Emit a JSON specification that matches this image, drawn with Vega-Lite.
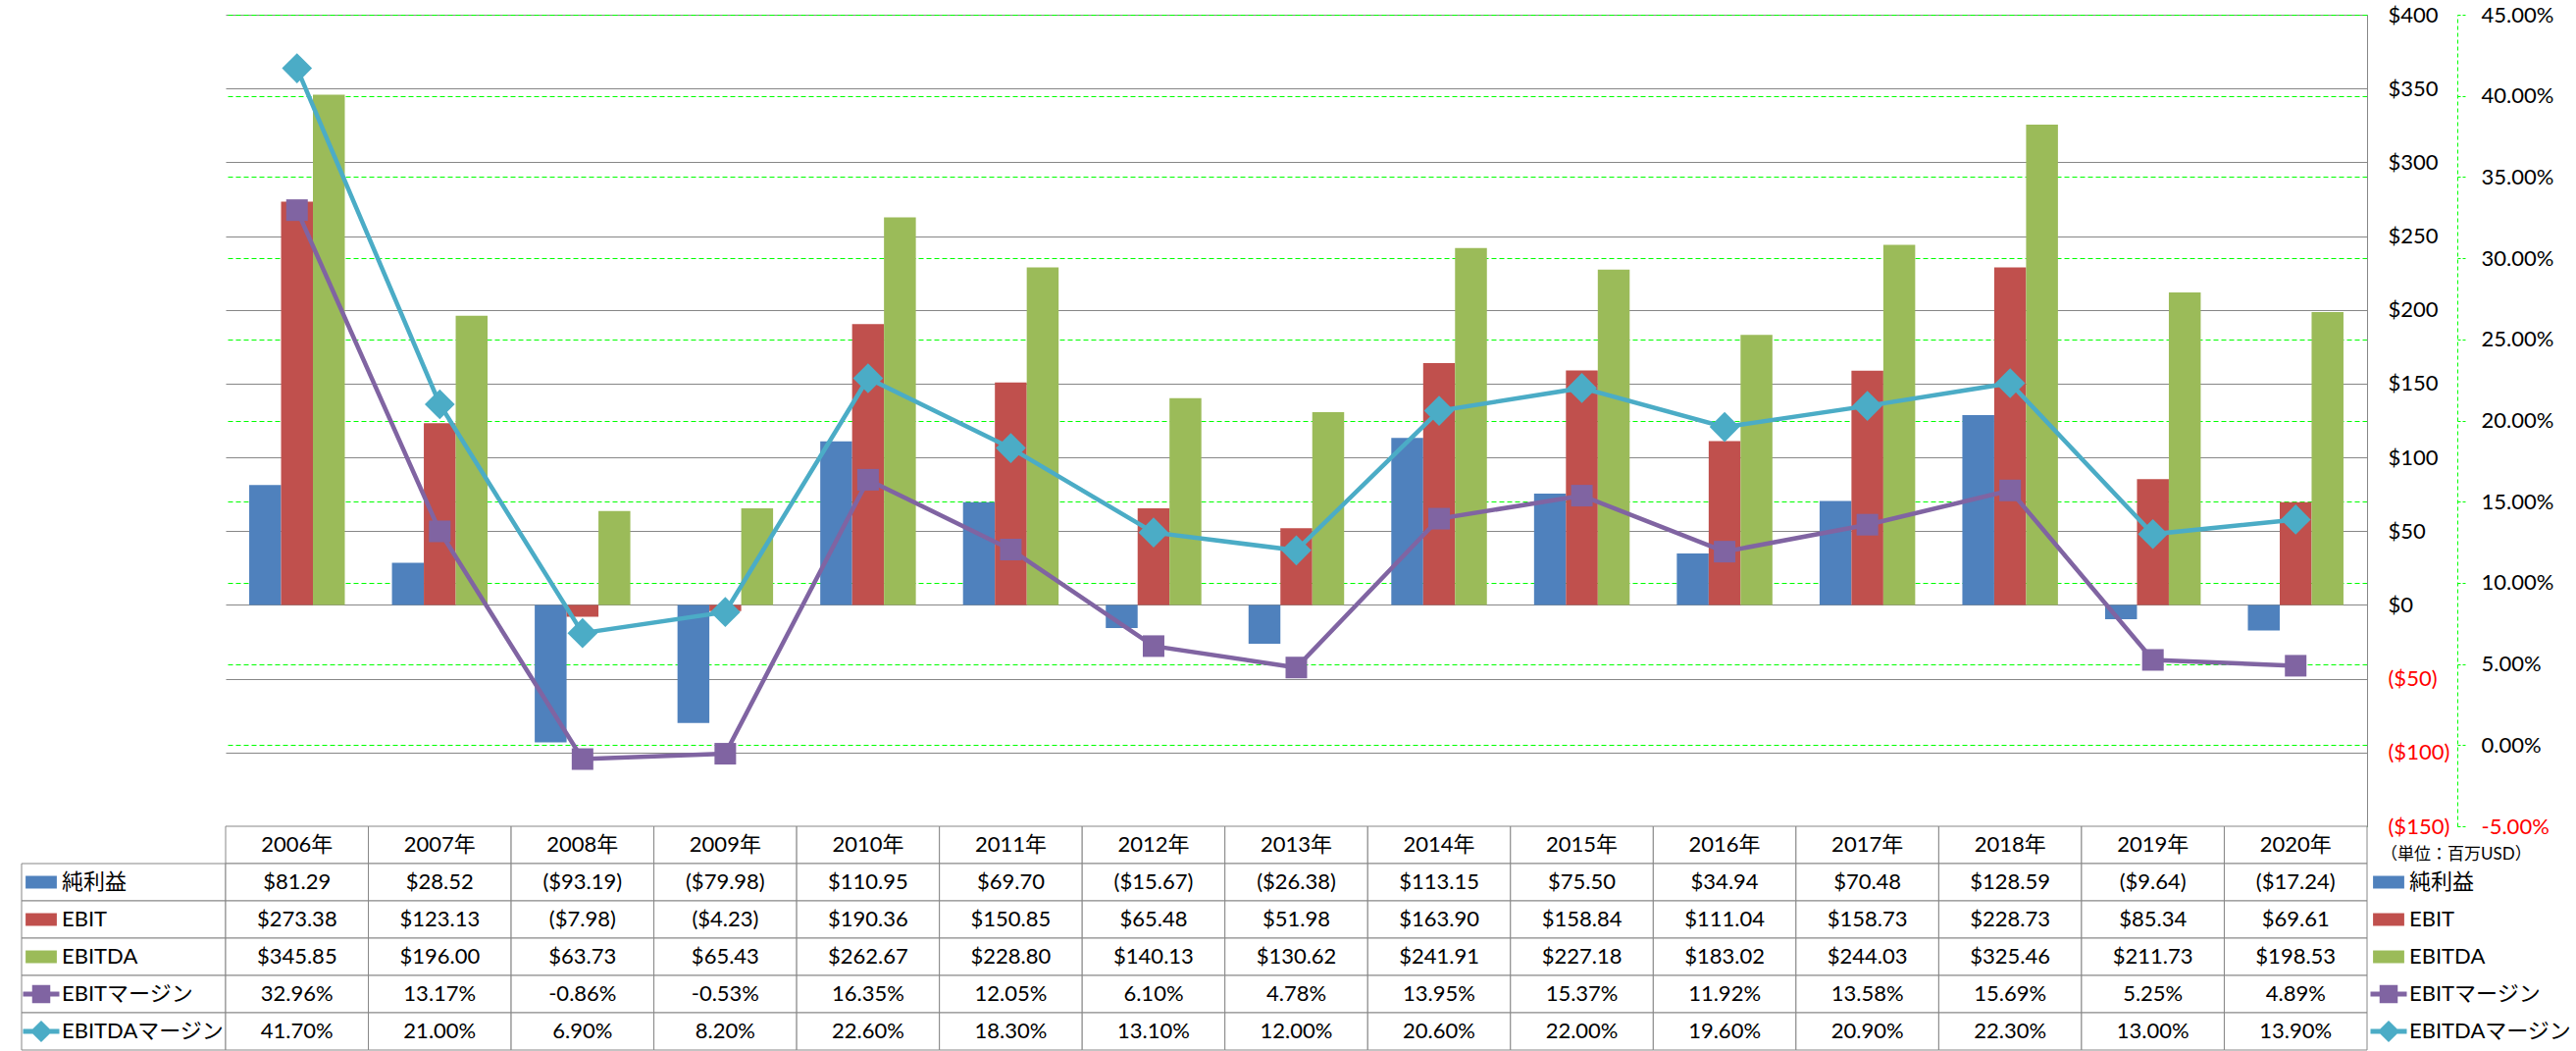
{
  "$schema": "https://vega.github.io/schema/vega-lite/v6.json",
  "padding": {"left": 21, "top": 4, "right": 0, "bottom": 0},
  "background": "white",
  "config": {"view": {"stroke": null}, "font": "Lato, Noto Sans CJK JP"},
  "datasets": {
    "fin": [
      {"year": "2006年", "純利益": 81.29, "EBIT": 273.38, "EBITDA": 345.85, "EBITマージン": 0.3296, "EBITDAマージン": 0.417},
      {"year": "2007年", "純利益": 28.52, "EBIT": 123.13, "EBITDA": 196.00, "EBITマージン": 0.1317, "EBITDAマージン": 0.21},
      {"year": "2008年", "純利益": -93.19, "EBIT": -7.98, "EBITDA": 63.73, "EBITマージン": -0.0086, "EBITDAマージン": 0.069},
      {"year": "2009年", "純利益": -79.98, "EBIT": -4.23, "EBITDA": 65.43, "EBITマージン": -0.0053, "EBITDAマージン": 0.082},
      {"year": "2010年", "純利益": 110.95, "EBIT": 190.36, "EBITDA": 262.67, "EBITマージン": 0.1635, "EBITDAマージン": 0.226},
      {"year": "2011年", "純利益": 69.70, "EBIT": 150.85, "EBITDA": 228.80, "EBITマージン": 0.1205, "EBITDAマージン": 0.183},
      {"year": "2012年", "純利益": -15.67, "EBIT": 65.48, "EBITDA": 140.13, "EBITマージン": 0.061, "EBITDAマージン": 0.131},
      {"year": "2013年", "純利益": -26.38, "EBIT": 51.98, "EBITDA": 130.62, "EBITマージン": 0.0478, "EBITDAマージン": 0.12},
      {"year": "2014年", "純利益": 113.15, "EBIT": 163.90, "EBITDA": 241.91, "EBITマージン": 0.1395, "EBITDAマージン": 0.206},
      {"year": "2015年", "純利益": 75.50, "EBIT": 158.84, "EBITDA": 227.18, "EBITマージン": 0.1537, "EBITDAマージン": 0.22},
      {"year": "2016年", "純利益": 34.94, "EBIT": 111.04, "EBITDA": 183.02, "EBITマージン": 0.1192, "EBITDAマージン": 0.196},
      {"year": "2017年", "純利益": 70.48, "EBIT": 158.73, "EBITDA": 244.03, "EBITマージン": 0.1358, "EBITDAマージン": 0.209},
      {"year": "2018年", "純利益": 128.59, "EBIT": 228.73, "EBITDA": 325.46, "EBITマージン": 0.1569, "EBITDAマージン": 0.223},
      {"year": "2019年", "純利益": -9.64, "EBIT": 85.34, "EBITDA": 211.73, "EBITマージン": 0.0525, "EBITDAマージン": 0.13},
      {"year": "2020年", "純利益": -17.24, "EBIT": 69.61, "EBITDA": 198.53, "EBITマージン": 0.0489, "EBITDAマージン": 0.139}
    ],
    "series": [
      {"series": "純利益"}, {"series": "EBIT"}, {"series": "EBITDA"}, {"series": "EBITマージン"}, {"series": "EBITDAマージン"}
    ]
  },
  "columns": 2,
  "spacing": 0,
  "bounds": "flush",
  "resolve": {"scale": {"x": "independent", "y": "independent", "color": "independent", "shape": "independent", "xOffset": "independent"}},
  "concat": [
    {
      "width": 208, "height": 827,
      "data": {"values": [{}]},
      "mark": {"type": "text"},
      "encoding": {"text": {"value": ""}}
    },
    {
      "width": 2183, "height": 827,
      "data": {"name": "fin"},
      "layer": [
        {
          "transform": [{"fold": ["純利益", "EBIT", "EBITDA"], "as": ["series", "value"]}],
          "mark": {"type": "bar"},
          "encoding": {
            "x": {"field": "year", "type": "nominal", "sort": null, "scale": {"paddingInner": 0, "paddingOuter": 0}, "axis": null},
            "xOffset": {"field": "series", "type": "nominal", "sort": ["純利益", "EBIT", "EBITDA"], "scale": {"paddingInner": 0, "paddingOuter": 0.74}},
            "y": {
              "field": "value", "type": "quantitative",
              "scale": {"domain": [-150, 400], "nice": false, "zero": false},
              "axis": {
                "orient": "right", "title": null,
                "values": [-150, -100, -50, 0, 50, 100, 150, 200, 250, 300, 350, 400],
                "labelExpr": "datum.value < 0 ? '($' + (-datum.value) + ')' : '$' + datum.value",
                "labelColor": {"condition": {"test": "datum.value < 0", "value": "#FF0000"}, "value": "#000000"},
                "labelFontSize": 22, "labelAlign": "left", "labelBaseline": "middle", "labelPadding": 21,
                "labelOverlap": false, "labelFlush": false,
                "ticks": false, "domain": true, "domainColor": "#878787", "domainWidth": 1,
                "grid": true, "gridColor": "#878787", "gridWidth": 1
              }
            },
            "color": {
              "field": "series", "type": "nominal",
              "scale": {"domain": ["純利益", "EBIT", "EBITDA", "EBITマージン", "EBITDAマージン"], "range": ["#4F81BD", "#C0504D", "#9BBB59", "#8064A2", "#4BACC6"]},
              "legend": null
            }
          }
        },
        {
          "transform": [{"fold": ["EBITマージン", "EBITDAマージン"], "as": ["series", "value"]}],
          "encoding": {
            "x": {"field": "year", "type": "nominal", "sort": null, "scale": {"paddingInner": 0, "paddingOuter": 0}, "axis": null},
            "y": {
              "field": "value", "type": "quantitative",
              "scale": {"domain": [-0.05, 0.45], "nice": false, "zero": false},
              "axis": {
                "orient": "right", "offset": 92, "title": null,
                "values": [-0.05, 0, 0.05, 0.1, 0.15, 0.2, 0.25, 0.3, 0.35, 0.4, 0.45],
                "labelExpr": "datum.value < 0 ? '-' + format(-datum.value, '.2%') : format(datum.value, '.2%')",
                "labelColor": {"condition": {"test": "datum.value < 0", "value": "#FF0000"}, "value": "#000000"},
                "labelFontSize": 22, "labelAlign": "left", "labelBaseline": "middle", "labelPadding": 16,
                "labelOverlap": false, "labelFlush": false,
                "tickSize": 8, "tickColor": "#00FF00", "tickDash": [3, 2], "tickWidth": 1,
                "domainColor": "#00FF00", "domainDash": [4, 3], "domainWidth": 1,
                "grid": true, "gridColor": "#00FF00", "gridDash": [5, 3], "gridWidth": 1
              }
            }
          },
          "layer": [
            {
              "mark": {"type": "line", "strokeWidth": 4.5},
              "encoding": {
                "color": {
                  "field": "series", "type": "nominal",
                  "scale": {"domain": ["純利益", "EBIT", "EBITDA", "EBITマージン", "EBITDAマージン"], "range": ["#4F81BD", "#C0504D", "#9BBB59", "#8064A2", "#4BACC6"]},
                  "legend": null
                }
              }
            },
            {
              "transform": [{"filter": "datum.series === 'EBITマージン'"}],
              "mark": {"type": "point", "shape": "square", "size": 484, "filled": true, "opacity": 1, "color": "#8064A2"}
            },
            {
              "transform": [{"filter": "datum.series === 'EBITDAマージン'"}],
              "mark": {"type": "point", "shape": "diamond", "size": 940, "filled": true, "opacity": 1, "color": "#4BACC6"}
            }
          ]
        }
      ],
      "resolve": {"scale": {"y": "independent"}, "axis": {"y": "independent"}}
    },
    {
      "width": 208, "height": 228,
      "data": {"name": "series"},
      "encoding": {
        "y": {"field": "series", "type": "nominal", "scale": {"domain": ["header", "純利益", "EBIT", "EBITDA", "EBITマージン", "EBITDAマージン"], "paddingInner": 0, "paddingOuter": 0}, "axis": null}
      },
      "layer": [
        {
          "mark": {"type": "rect", "fill": "white", "stroke": "#878787", "strokeWidth": 1},
          "encoding": {"x": {"datum": "c", "type": "nominal", "scale": {"type": "band", "paddingInner": 0, "paddingOuter": 0}, "axis": null}}
        },
        {
          "mark": {"type": "point", "filled": true, "opacity": 1, "size": 1369, "strokeWidth": 0, "xOffset": 20},
          "encoding": {
            "x": {"datum": "c", "type": "nominal", "bandPosition": 0, "scale": {"type": "band", "paddingInner": 0, "paddingOuter": 0}, "axis": null},
            "shape": {
              "field": "series", "type": "nominal",
              "scale": {"domain": ["純利益", "EBIT", "EBITDA", "EBITマージン", "EBITDAマージン"], "range": ["M-0.86,-0.35H0.86V0.35H-0.86Z", "M-0.86,-0.35H0.86V0.35H-0.86Z", "M-0.86,-0.35H0.86V0.35H-0.86Z", "M-1,-0.135H-0.5V-0.5H0.5V-0.135H1V0.135H0.5V0.5H-0.5V0.135H-1Z", "M-1,-0.135H-0.465L0,-0.6L0.465,-0.135H1V0.135H0.465L0,0.6L-0.465,0.135H-1Z"]},
              "legend": null
            },
            "color": {
              "field": "series", "type": "nominal",
              "scale": {"domain": ["純利益", "EBIT", "EBITDA", "EBITマージン", "EBITDAマージン"], "range": ["#4F81BD", "#C0504D", "#9BBB59", "#8064A2", "#4BACC6"]},
              "legend": null
            }
          }
        },
        {
          "mark": {"type": "text", "align": "left", "baseline": "middle", "xOffset": 41, "fontSize": 22, "color": "#000000"},
          "encoding": {
            "x": {"datum": "c", "type": "nominal", "bandPosition": 0, "scale": {"type": "band", "paddingInner": 0, "paddingOuter": 0}, "axis": null},
            "text": {"field": "series"}
          }
        }
      ]
    },
    {
      "hconcat": [
        {
          "width": 2183, "height": 228,
          "data": {"name": "fin"},
          "layer": [
            {
              "mark": {"type": "rect", "fill": "white", "stroke": "#878787", "strokeWidth": 1},
              "encoding": {
                "x": {"field": "year", "type": "nominal", "sort": null, "scale": {"type": "band", "paddingInner": 0, "paddingOuter": 0}, "axis": null},
                "y": {"datum": "header", "type": "nominal", "scale": {"type": "band", "domain": ["header", "純利益", "EBIT", "EBITDA", "EBITマージン", "EBITDAマージン"], "paddingInner": 0, "paddingOuter": 0}, "axis": null}
              }
            },
            {
              "mark": {"type": "text", "fontSize": 22, "baseline": "middle", "color": "#000000"},
              "encoding": {
                "x": {"field": "year", "type": "nominal", "sort": null, "axis": null},
                "y": {"datum": "header", "type": "nominal", "axis": null},
                "text": {"field": "year"}
              }
            },
            {
              "transform": [
                {"fold": ["純利益", "EBIT", "EBITDA", "EBITマージン", "EBITDAマージン"], "as": ["series", "value"]},
                {"calculate": "indexof(['EBITマージン', 'EBITDAマージン'], datum.series) >= 0 ? (datum.value < 0 ? '-' + format(-datum.value, '.2%') : format(datum.value, '.2%')) : (datum.value < 0 ? '($' + format(-datum.value, '.2f') + ')' : '$' + format(datum.value, '.2f'))", "as": "label"}
              ],
              "layer": [
                {
                  "mark": {"type": "rect", "fill": "white", "stroke": "#878787", "strokeWidth": 1},
                  "encoding": {
                    "x": {"field": "year", "type": "nominal", "sort": null, "axis": null},
                    "y": {"field": "series", "type": "nominal", "axis": null}
                  }
                },
                {
                  "mark": {"type": "text", "fontSize": 22, "baseline": "middle", "color": "#000000"},
                  "encoding": {
                    "x": {"field": "year", "type": "nominal", "sort": null, "axis": null},
                    "y": {"field": "series", "type": "nominal", "axis": null},
                    "text": {"field": "label"}
                  }
                }
              ]
            }
          ]
        },
        {
          "width": 214, "height": 228,
          "layer": [
            {
              "data": {"values": [{}]},
              "mark": {"type": "text", "text": "（単位：百万USD）", "align": "left", "baseline": "middle", "xOffset": 14, "yOffset": 10, "fontSize": 17, "color": "#000000"},
              "encoding": {
                "x": {"datum": "c", "type": "nominal", "bandPosition": 0, "scale": {"type": "band", "paddingInner": 0, "paddingOuter": 0}, "axis": null},
                "y": {"datum": "header", "type": "nominal", "scale": {"type": "band", "domain": ["header", "純利益", "EBIT", "EBITDA", "EBITマージン", "EBITDAマージン"], "paddingInner": 0, "paddingOuter": 0}, "axis": null}
              }
            },
            {
              "data": {"name": "series"},
              "mark": {"type": "point", "filled": true, "opacity": 1, "size": 1369, "strokeWidth": 0, "xOffset": 22},
              "encoding": {
                "x": {"datum": "c", "type": "nominal", "bandPosition": 0, "axis": null},
                "y": {"field": "series", "type": "nominal", "axis": null},
                "shape": {
                  "field": "series", "type": "nominal",
                  "scale": {"domain": ["純利益", "EBIT", "EBITDA", "EBITマージン", "EBITDAマージン"], "range": ["M-0.86,-0.35H0.86V0.35H-0.86Z", "M-0.86,-0.35H0.86V0.35H-0.86Z", "M-0.86,-0.35H0.86V0.35H-0.86Z", "M-1,-0.135H-0.5V-0.5H0.5V-0.135H1V0.135H0.5V0.5H-0.5V0.135H-1Z", "M-1,-0.135H-0.465L0,-0.6L0.465,-0.135H1V0.135H0.465L0,0.6L-0.465,0.135H-1Z"]},
                  "legend": null
                },
                "color": {
                  "field": "series", "type": "nominal",
                  "scale": {"domain": ["純利益", "EBIT", "EBITDA", "EBITマージン", "EBITDAマージン"], "range": ["#4F81BD", "#C0504D", "#9BBB59", "#8064A2", "#4BACC6"]},
                  "legend": null
                }
              }
            },
            {
              "data": {"name": "series"},
              "mark": {"type": "text", "align": "left", "baseline": "middle", "xOffset": 43, "fontSize": 22, "color": "#000000"},
              "encoding": {
                "x": {"datum": "c", "type": "nominal", "bandPosition": 0, "axis": null},
                "y": {"field": "series", "type": "nominal", "axis": null},
                "text": {"field": "series"}
              }
            }
          ]
        }
      ],
      "spacing": 0,
      "bounds": "flush",
      "resolve": {"scale": {"x": "independent", "y": "independent", "color": "independent", "shape": "independent"}}
    }
  ]
}
